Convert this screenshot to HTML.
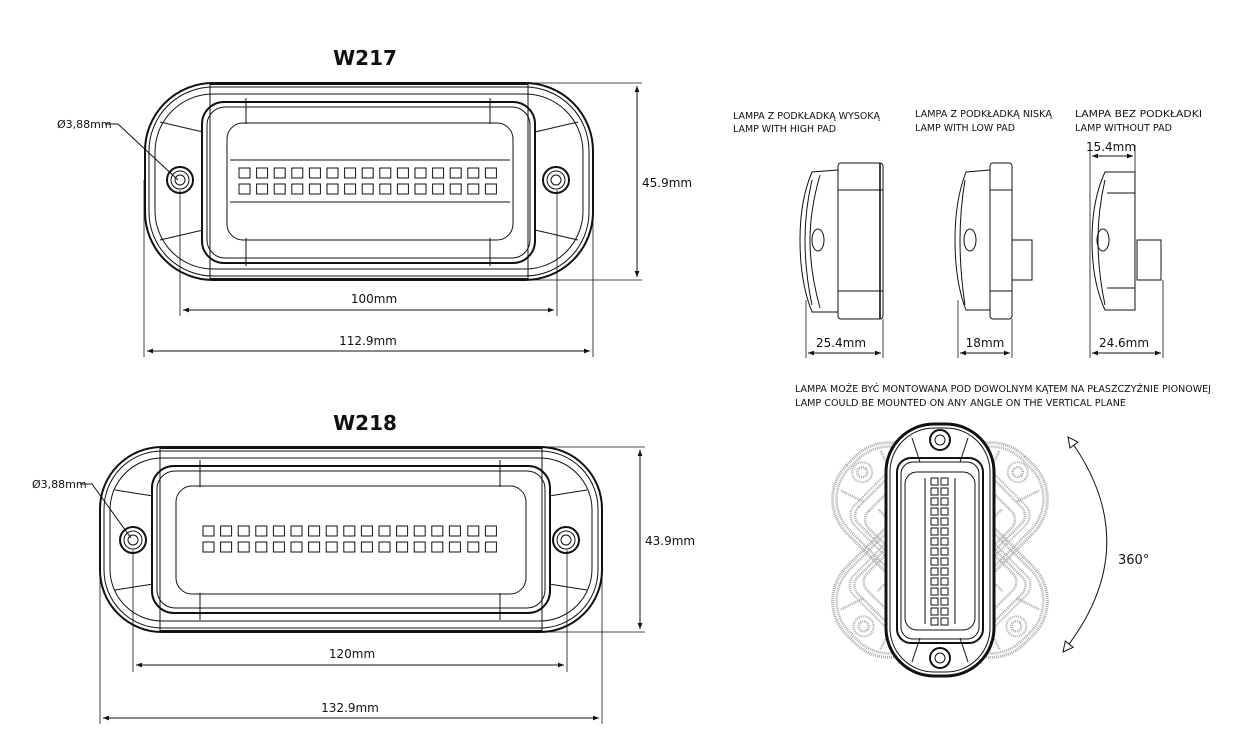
<!DOCTYPE html>
<html><head><meta charset="utf-8"><style>
html,body{margin:0;padding:0;background:#fff}
svg{display:block}
text{font-family:"DejaVu Sans","Liberation Sans",sans-serif;fill:#111}
</style></head><body>
<svg width="1255" height="745" viewBox="0 0 1255 745" xmlns="http://www.w3.org/2000/svg">
<defs>
<marker id="ar" viewBox="0 0 10 10" refX="10" refY="5" markerWidth="8" markerHeight="6" orient="auto-start-reverse"><path d="M0,1 L10,5 L0,9 z" fill="#111"/></marker>
<marker id="oa" viewBox="0 0 12 12" refX="11" refY="6" markerWidth="12" markerHeight="12" markerUnits="userSpaceOnUse" orient="auto-start-reverse"><path d="M1,1 L11,6 L1,11 z" fill="#fff" stroke="#111" stroke-width="1"/></marker>
<g id="vlamp" fill="none">
<rect x="-54" y="-126" width="108" height="252" rx="48" stroke-width="3"/>
<rect x="-50" y="-122" width="100" height="244" rx="44"/>
<rect x="-43" y="-92" width="86" height="185" rx="14" stroke-width="2"/>
<rect x="-39" y="-88" width="78" height="177" rx="12"/>
<rect x="-35" y="-78" width="70" height="158" rx="12"/>
<line x1="-15" y1="-72" x2="-15" y2="74"/><line x1="15" y1="-72" x2="15" y2="74"/>
<line x1="-28" y1="-112" x2="-20" y2="-88"/><line x1="28" y1="-112" x2="20" y2="-88"/>
<line x1="-28" y1="112" x2="-20" y2="88"/><line x1="28" y1="112" x2="20" y2="88"/>
<circle cx="0" cy="-110" r="10" stroke-width="2"/><circle cx="0" cy="-110" r="5"/>
<circle cx="0" cy="108" r="10" stroke-width="2"/><circle cx="0" cy="108" r="5"/>
</g>
</defs>

<!-- ========== W217 ========== -->
<text x="365" y="65" font-size="20" font-weight="bold" text-anchor="middle" font-family="Liberation Sans">W217</text>
<g fill="none" stroke="#111" stroke-width="1">
<rect x="145" y="83" width="448" height="197" rx="68" stroke-width="2"/>
<rect x="149" y="87" width="440" height="189" rx="64"/>
<rect x="155" y="94" width="428" height="175" rx="58"/>
<line x1="210" y1="84" x2="528" y2="84" stroke-width="2"/><line x1="210" y1="279" x2="528" y2="279" stroke-width="2"/>
<line x1="210" y1="83" x2="210" y2="280"/><line x1="528" y1="83" x2="528" y2="280"/>
<rect x="202" y="102" width="333" height="161" rx="22" stroke-width="2"/>
<rect x="207" y="107" width="323" height="151" rx="18"/>
<rect x="227" y="123" width="286" height="117" rx="16"/>
<line x1="246" y1="98" x2="246" y2="124"/><line x1="490" y1="98" x2="490" y2="124"/>
<line x1="246" y1="238" x2="246" y2="266"/><line x1="490" y1="238" x2="490" y2="266"/>
<line x1="230" y1="160" x2="510" y2="160"/><line x1="230" y1="202" x2="510" y2="202"/>
<line x1="160" y1="122" x2="203" y2="132"/><line x1="160" y1="240" x2="203" y2="230"/>
<line x1="578" y1="122" x2="535" y2="132"/><line x1="578" y1="240" x2="535" y2="230"/>
<circle cx="180" cy="180" r="13" stroke-width="2"/><circle cx="180" cy="180" r="9"/><circle cx="180" cy="180" r="5"/>
<circle cx="556" cy="180" r="13" stroke-width="2"/><circle cx="556" cy="180" r="9"/><circle cx="556" cy="180" r="5"/>
<g id="led17">
<rect x="239" y="168" width="11" height="10"/><rect x="256.6" y="168" width="11" height="10"/><rect x="274.2" y="168" width="11" height="10"/><rect x="291.8" y="168" width="11" height="10"/><rect x="309.4" y="168" width="11" height="10"/><rect x="327" y="168" width="11" height="10"/><rect x="344.6" y="168" width="11" height="10"/><rect x="362.2" y="168" width="11" height="10"/><rect x="379.8" y="168" width="11" height="10"/><rect x="397.4" y="168" width="11" height="10"/><rect x="415" y="168" width="11" height="10"/><rect x="432.6" y="168" width="11" height="10"/><rect x="450.2" y="168" width="11" height="10"/><rect x="467.8" y="168" width="11" height="10"/><rect x="485.4" y="168" width="11" height="10"/>
</g>
<use href="#led17" y="16"/>
<line x1="180" y1="190" x2="180" y2="316" stroke-width="0.8"/><line x1="557" y1="190" x2="557" y2="316" stroke-width="0.8"/>
<line x1="183" y1="310" x2="554" y2="310" marker-start="url(#ar)" marker-end="url(#ar)"/>
<line x1="144" y1="180" x2="144" y2="357" stroke-width="0.8"/><line x1="593" y1="180" x2="593" y2="357" stroke-width="0.8"/>
<line x1="147" y1="351" x2="590" y2="351" marker-start="url(#ar)" marker-end="url(#ar)"/>
<line x1="528" y1="83" x2="642" y2="83" stroke-width="0.8"/><line x1="528" y1="280" x2="642" y2="280" stroke-width="0.8"/>
<line x1="637" y1="86" x2="637" y2="277" marker-start="url(#ar)" marker-end="url(#ar)"/>
<polyline points="105,124 118,124 178,180"/>
</g>
<text x="374" y="303" font-size="12" text-anchor="middle">100mm</text>
<text x="368" y="345" font-size="12" text-anchor="middle">112.9mm</text>
<text x="642" y="187" font-size="12">45.9mm</text>
<text x="57" y="128" font-size="11">Ø3,88mm</text>

<!-- ========== W218 ========== -->
<text x="365" y="430" font-size="20" font-weight="bold" text-anchor="middle" font-family="Liberation Sans">W218</text>
<g fill="none" stroke="#111" stroke-width="1">
<rect x="100" y="447" width="502" height="185" rx="62" stroke-width="2"/>
<rect x="104" y="451" width="494" height="177" rx="58"/>
<rect x="110" y="458" width="482" height="163" rx="52"/>
<line x1="160" y1="448" x2="542" y2="448" stroke-width="2"/><line x1="160" y1="631" x2="542" y2="631" stroke-width="2"/>
<line x1="160" y1="447" x2="160" y2="632"/><line x1="542" y1="447" x2="542" y2="632"/>
<rect x="152" y="466" width="398" height="147" rx="22" stroke-width="2"/>
<rect x="157" y="471" width="388" height="137" rx="18"/>
<rect x="176" y="486" width="350" height="108" rx="16"/>
<line x1="200" y1="460" x2="200" y2="487"/><line x1="500" y1="460" x2="500" y2="487"/>
<line x1="200" y1="593" x2="200" y2="620"/><line x1="500" y1="593" x2="500" y2="620"/>
<line x1="115" y1="490" x2="153" y2="496"/><line x1="115" y1="590" x2="153" y2="584"/>
<line x1="587" y1="490" x2="549" y2="496"/><line x1="587" y1="590" x2="549" y2="584"/>
<circle cx="133" cy="540" r="13" stroke-width="2"/><circle cx="133" cy="540" r="9"/><circle cx="133" cy="540" r="5"/>
<circle cx="566" cy="540" r="13" stroke-width="2"/><circle cx="566" cy="540" r="9"/><circle cx="566" cy="540" r="5"/>
<use href="#led17" x="-36" y="358"/><use href="#led17" x="-36" y="374"/>
<rect x="467.8" y="526" width="11" height="10"/><rect x="485.4" y="526" width="11" height="10"/>
<rect x="467.8" y="542" width="11" height="10"/><rect x="485.4" y="542" width="11" height="10"/>
<line x1="133" y1="550" x2="133" y2="672" stroke-width="0.8"/><line x1="567" y1="550" x2="567" y2="672" stroke-width="0.8"/>
<line x1="136" y1="665" x2="564" y2="665" marker-start="url(#ar)" marker-end="url(#ar)"/>
<line x1="100" y1="540" x2="100" y2="724" stroke-width="0.8"/><line x1="602" y1="540" x2="602" y2="724" stroke-width="0.8"/>
<line x1="103" y1="718" x2="599" y2="718" marker-start="url(#ar)" marker-end="url(#ar)"/>
<line x1="542" y1="447" x2="645" y2="447" stroke-width="0.8"/><line x1="542" y1="632" x2="645" y2="632" stroke-width="0.8"/>
<line x1="640" y1="450" x2="640" y2="629" marker-start="url(#ar)" marker-end="url(#ar)"/>
<polyline points="80,484 92,484 131,538"/>
</g>
<text x="352" y="658" font-size="12" text-anchor="middle">120mm</text>
<text x="350" y="712" font-size="12" text-anchor="middle">132.9mm</text>
<text x="645" y="545" font-size="12">43.9mm</text>
<text x="32" y="488" font-size="11">Ø3,88mm</text>

<!-- ========== side views ========== -->
<g font-size="10" font-family="Liberation Sans">
<text x="733" y="119" textLength="147" lengthAdjust="spacingAndGlyphs">LAMPA Z PODKŁADKĄ WYSOKĄ</text><text x="733" y="132" textLength="103" lengthAdjust="spacingAndGlyphs">LAMP WITH HIGH PAD</text>
<text x="915" y="117" textLength="137" lengthAdjust="spacingAndGlyphs">LAMPA Z PODKŁADKĄ NISKĄ</text><text x="915" y="131" textLength="100" lengthAdjust="spacingAndGlyphs">LAMP WITH LOW PAD</text>
<text x="1075" y="117" textLength="127" lengthAdjust="spacingAndGlyphs">LAMPA BEZ PODKŁADKI</text><text x="1075" y="131" textLength="97" lengthAdjust="spacingAndGlyphs">LAMP WITHOUT PAD</text>
</g>
<g fill="none" stroke="#111" stroke-width="1">
<path d="M838,170 L812,172 Q800,200 800,240 Q800,282 812,312 L838,312 Z"/>
<path d="M812,180 Q805,210 805,240 Q805,272 812,305"/>
<path d="M820,175 Q810,210 810,240 Q810,272 820,308"/>
<rect x="838" y="163" width="45" height="156" rx="3"/>
<line x1="838" y1="190" x2="883" y2="190"/><line x1="838" y1="291" x2="883" y2="291"/>
<line x1="880" y1="163" x2="880" y2="319" stroke-width="1.6"/>
<ellipse cx="818" cy="240" rx="6" ry="11"/>
<line x1="806" y1="300" x2="806" y2="358" stroke-width="0.8"/><line x1="883" y1="319" x2="883" y2="358" stroke-width="0.8"/>
<line x1="808" y1="353" x2="881" y2="353" marker-start="url(#ar)" marker-end="url(#ar)"/>
<path d="M990,170 L966,172 Q955,200 955,240 Q955,282 966,310 L990,310 Z"/>
<path d="M965,180 Q960,210 960,240 Q960,272 965,305"/>
<rect x="990" y="163" width="22" height="156" rx="3"/>
<line x1="990" y1="190" x2="1012" y2="190"/><line x1="990" y1="291" x2="1012" y2="291"/>
<rect x="1012" y="240" width="20" height="40"/>
<ellipse cx="970" cy="240" rx="6" ry="11"/>
<line x1="958" y1="300" x2="958" y2="358" stroke-width="0.8"/><line x1="1012" y1="319" x2="1012" y2="358" stroke-width="0.8"/>
<line x1="960" y1="353" x2="1010" y2="353" marker-start="url(#ar)" marker-end="url(#ar)"/>
<path d="M1135,172 L1105,172 Q1092,200 1092,240 Q1092,282 1105,310 L1135,310 Z"/>
<path d="M1105,180 Q1098,210 1098,240 Q1098,272 1105,305"/>
<line x1="1107" y1="193" x2="1135" y2="193"/><line x1="1107" y1="288" x2="1135" y2="288"/>
<rect x="1137" y="240" width="24" height="40"/>
<ellipse cx="1103" cy="240" rx="6" ry="11"/>
<line x1="1090" y1="145" x2="1090" y2="358" stroke-width="0.8"/><line x1="1135" y1="145" x2="1135" y2="172" stroke-width="0.8"/><line x1="1163" y1="280" x2="1163" y2="358" stroke-width="0.8"/>
<line x1="1092" y1="156" x2="1133" y2="156" marker-start="url(#ar)" marker-end="url(#ar)"/>
<line x1="1092" y1="353" x2="1161" y2="353" marker-start="url(#ar)" marker-end="url(#ar)"/>
</g>
<text x="841" y="347" font-size="12" text-anchor="middle">25.4mm</text>
<text x="985" y="347" font-size="12" text-anchor="middle">18mm</text>
<text x="1124" y="347" font-size="12" text-anchor="middle">24.6mm</text>
<text x="1111" y="151" font-size="12" text-anchor="middle">15.4mm</text>

<g font-size="10" font-family="Liberation Sans">
<text x="795" y="392" textLength="416" lengthAdjust="spacingAndGlyphs">LAMPA MOŻE BYĆ MONTOWANA POD DOWOLNYM KĄTEM NA PŁASZCZYŹNIE PIONOWEJ</text>
<text x="795" y="406" textLength="331" lengthAdjust="spacingAndGlyphs">LAMP COULD BE MOUNTED ON ANY ANGLE ON THE VERTICAL PLANE</text>
</g>

<g transform="translate(940,550)">
<use href="#vlamp" transform="rotate(-45)" stroke="#aaa" stroke-width="2.5" stroke-dasharray="1 1"/>
<use href="#vlamp" transform="rotate(45)" stroke="#aaa" stroke-width="2.5" stroke-dasharray="1 1"/>
<rect x="-54" y="-126" width="108" height="252" rx="48" fill="#fff"/>
<use href="#vlamp" stroke="#111" stroke-width="1"/>
<g fill="none" stroke="#111" stroke-width="1">
<g id="vcol">
<rect x="-9" y="-72" width="7" height="7"/><rect x="-9" y="-62" width="7" height="7"/><rect x="-9" y="-52" width="7" height="7"/><rect x="-9" y="-42" width="7" height="7"/><rect x="-9" y="-32" width="7" height="7"/><rect x="-9" y="-22" width="7" height="7"/><rect x="-9" y="-12" width="7" height="7"/><rect x="-9" y="-2" width="7" height="7"/><rect x="-9" y="8" width="7" height="7"/><rect x="-9" y="18" width="7" height="7"/><rect x="-9" y="28" width="7" height="7"/><rect x="-9" y="38" width="7" height="7"/><rect x="-9" y="48" width="7" height="7"/><rect x="-9" y="58" width="7" height="7"/><rect x="-9" y="68" width="7" height="7"/>
</g>
<use href="#vcol" x="10"/>
</g>
</g>
<path d="M1068,437 Q1148,545 1063,652" fill="none" stroke="#111" stroke-width="1" marker-start="url(#oa)" marker-end="url(#oa)"/>
<text x="1118" y="564" font-size="13">360°</text>
</svg>
</body></html>
